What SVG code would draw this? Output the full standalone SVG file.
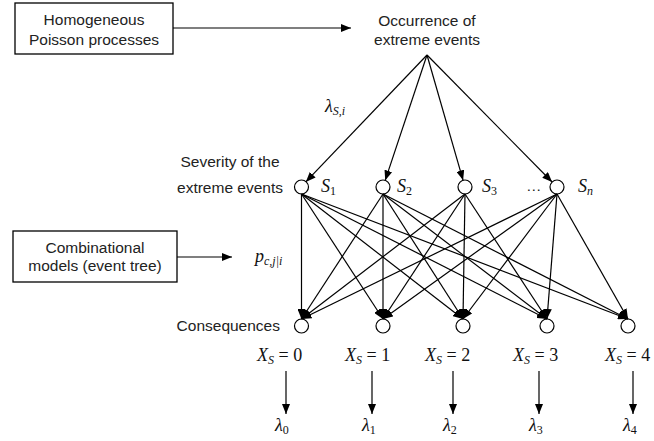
<svg xmlns="http://www.w3.org/2000/svg" width="654" height="441" viewBox="0 0 654 441">
<style>
.box{fill:#fff;stroke:#000;stroke-width:1.3}
.lbl{font-family:"Liberation Sans","DejaVu Sans",sans-serif;font-size:15.5px;fill:#222}
.m{font-family:"Liberation Serif","DejaVu Serif",serif;font-style:italic;font-size:18px;fill:#111}
.u{font-style:normal}
.node{fill:#fff;stroke:#000;stroke-width:1.2}
.e{stroke:#000;stroke-width:1.2;fill:none;marker-end:url(#ah)}
</style>
<defs>
<marker id="ah" markerUnits="userSpaceOnUse" markerWidth="10" markerHeight="8" refX="10" refY="4" orient="auto">
<path d="M0,0 L10,4 L0,8 z" fill="#000"/>
</marker>
</defs>
<rect width="654" height="441" fill="#fff"/>

<g id="poisson">
<rect class="box" x="15" y="3" width="158" height="51"/>
<text class="lbl" x="94" y="25" text-anchor="middle">Homogeneous</text>
<text class="lbl" x="94" y="45" text-anchor="middle">Poisson processes</text>
</g>
<g id="occurrence">
<text class="lbl" x="427" y="26" text-anchor="middle">Occurrence of</text>
<text class="lbl" x="427" y="45" text-anchor="middle">extreme events</text>
</g>
<g id="combinational">
<rect class="box" x="13" y="231" width="164" height="51"/>
<text class="lbl" x="95" y="253" text-anchor="middle">Combinational</text>
<text class="lbl" x="95" y="271" text-anchor="middle">models (event tree)</text>
</g>
<g id="severity-label">
<text class="lbl" x="230" y="167" text-anchor="middle">Severity of the</text>
<text class="lbl" x="230" y="193" text-anchor="middle">extreme events</text>
</g>
<g id="consequences-label">
<text class="lbl" x="280" y="331" text-anchor="end">Consequences</text>
</g>

<g id="S1"><circle class="node" cx="301.5" cy="187" r="7"/><text class="m" x="321" y="192">S<tspan font-size="12" dy="3" class="u">1</tspan></text></g>
<g id="S2"><circle class="node" cx="383" cy="187" r="7"/><text class="m" x="397" y="192">S<tspan font-size="12" dy="3" class="u">2</tspan></text></g>
<g id="S3"><circle class="node" cx="465" cy="187" r="7"/><text class="m" x="482" y="192">S<tspan font-size="12" dy="3" class="u">3</tspan></text></g>
<g id="dots"><text class="lbl" x="526" y="191">…</text></g>
<g id="Sn"><circle class="node" cx="557" cy="187" r="7"/><text class="m" x="578" y="192">S<tspan font-size="12" dy="3">n</tspan></text></g>

<g id="C0"><circle class="node" cx="301.5" cy="326" r="7"/><text class="m" x="257" y="361">X<tspan font-size="12" dy="3">S</tspan><tspan class="u" dy="-3"> = 0</tspan></text></g>
<g id="C1"><circle class="node" cx="383" cy="326" r="7"/><text class="m" x="345" y="361">X<tspan font-size="12" dy="3">S</tspan><tspan class="u" dy="-3"> = 1</tspan></text></g>
<g id="C2"><circle class="node" cx="463" cy="326" r="7"/><text class="m" x="425" y="361">X<tspan font-size="12" dy="3">S</tspan><tspan class="u" dy="-3"> = 2</tspan></text></g>
<g id="C3"><circle class="node" cx="547" cy="326" r="7"/><text class="m" x="513" y="361">X<tspan font-size="12" dy="3">S</tspan><tspan class="u" dy="-3"> = 3</tspan></text></g>
<g id="C4"><circle class="node" cx="628" cy="326" r="7"/><text class="m" x="605" y="361">X<tspan font-size="12" dy="3">S</tspan><tspan class="u" dy="-3"> = 4</tspan></text></g>

<g id="lambda0"><text class="m" x="275" y="431">λ<tspan font-size="12" dy="3" class="u">0</tspan></text></g>
<g id="lambda1"><text class="m" x="362" y="431">λ<tspan font-size="12" dy="3" class="u">1</tspan></text></g>
<g id="lambda2"><text class="m" x="443" y="431">λ<tspan font-size="12" dy="3" class="u">2</tspan></text></g>
<g id="lambda3"><text class="m" x="529" y="431">λ<tspan font-size="12" dy="3" class="u">3</tspan></text></g>
<g id="lambda4"><text class="m" x="623" y="431">λ<tspan font-size="12" dy="3" class="u">4</tspan></text></g>

<g id="edge-labels">
<text class="m" x="325" y="112">λ<tspan font-size="12" dy="3">S,i</tspan></text>
<text class="m" x="255" y="262">p<tspan font-size="12" dy="3">c,j|i</tspan></text>
</g>

<g id="connectors">
<line class="e" x1="173" y1="28" x2="351" y2="28"/>
<line class="e" x1="177" y1="257" x2="232" y2="257"/>
<line class="e" x1="427" y1="55" x2="305.8" y2="181.9"/>
<line class="e" x1="427" y1="55" x2="385.2" y2="180.4"/>
<line class="e" x1="427" y1="55" x2="463.1" y2="180.3"/>
<line class="e" x1="427" y1="55" x2="552.1" y2="182"/>

<line class="e" x1="301.5" y1="194" x2="301.5" y2="319"/>
<line class="e" x1="301.5" y1="194" x2="383" y2="319"/>
<line class="e" x1="301.5" y1="194" x2="463" y2="319"/>
<line class="e" x1="301.5" y1="194" x2="547" y2="319"/>
<line class="e" x1="301.5" y1="194" x2="628" y2="319"/>

<line class="e" x1="383" y1="194" x2="301.5" y2="319"/>
<line class="e" x1="383" y1="194" x2="383" y2="319"/>
<line class="e" x1="383" y1="194" x2="463" y2="319"/>
<line class="e" x1="383" y1="194" x2="547" y2="319"/>
<line class="e" x1="383" y1="194" x2="628" y2="319"/>

<line class="e" x1="465" y1="194" x2="301.5" y2="319"/>
<line class="e" x1="465" y1="194" x2="383" y2="319"/>
<line class="e" x1="465" y1="194" x2="463" y2="319"/>
<line class="e" x1="465" y1="194" x2="547" y2="319"/>

<line class="e" x1="557" y1="194" x2="301.5" y2="319"/>
<line class="e" x1="557" y1="194" x2="383" y2="319"/>
<line class="e" x1="557" y1="194" x2="463" y2="319"/>
<line class="e" x1="557" y1="194" x2="547" y2="319"/>
<line class="e" x1="557" y1="194" x2="628" y2="319"/>

<line class="e" x1="286" y1="371" x2="286" y2="414"/>
<line class="e" x1="372" y1="371" x2="372" y2="414"/>
<line class="e" x1="453" y1="371" x2="453" y2="414"/>
<line class="e" x1="539" y1="371" x2="539" y2="414"/>
<line class="e" x1="633" y1="371" x2="633" y2="414"/>
</g>
</svg>
